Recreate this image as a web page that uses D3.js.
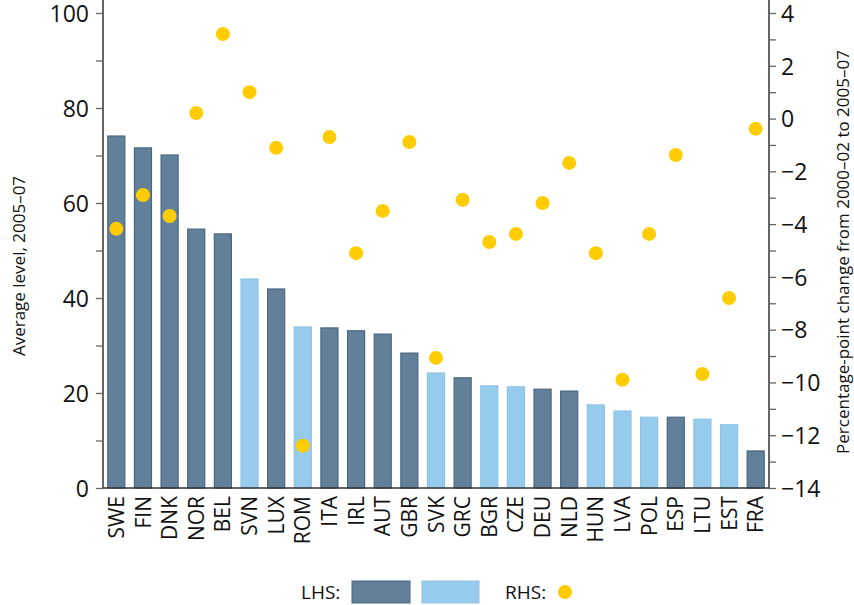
<!DOCTYPE html>
<html><head><meta charset="utf-8">
<script src="https://cdn.jsdelivr.net/npm/d3@7"></script>
<style>body{margin:0;background:#fff}svg{display:block}text{font-family:"Open Sans",sans-serif;fill:#111}</style>
</head><body><svg id="c" width="854" height="605"></svg>
<script>
const categories = ["SWE","FIN","DNK","NOR","BEL","SVN","LUX","ROM","ITA","IRL","AUT","GBR","SVK","GRC","BGR","CZE","DEU","NLD","HUN","LVA","POL","ESP","LTU","EST","FRA"];
const levels = [74.1,71.6,70.1,54.5,53.5,44.0,41.9,33.9,33.7,33.1,32.4,28.4,24.2,23.2,21.5,21.3,20.8,20.4,17.5,16.2,14.9,14.9,14.5,13.3,7.8];
const groups = ["d","d","d","d","d","l","d","l","d","d","d","d","l","d","l","l","d","d","l","l","l","d","l","l","d"];
const changes = [-4.18,-2.9,-3.69,0.21,3.2,1.0,-1.11,-12.4,-0.7,-5.1,-3.5,-0.89,-9.07,-3.08,-4.68,-4.37,-3.2,-1.68,-5.1,-9.9,-4.37,-1.38,-9.68,-6.8,-0.39];
const leftTicks = [0,20,40,60,80,100];
const rightTicks = [4,2,0,-2,-4,-6,-8,-10,-12,-14];

const svg = d3.select("#c");
const L = 103, R = 769, T = 13, B = 488;
const x = d3.scaleBand().domain(categories).range([L, R]).paddingInner(0.36).paddingOuter(0.18);
const yL = d3.scaleLinear().domain([0,100]).range([B,T]);
const yR = d3.scaleLinear().domain([-14,4]).range([B,T]);
const fill = {d:"#62809a", l:"#97cbec"}, stroke = {d:"#4a6782", l:"#8ec3e8"};

svg.append("g").selectAll("rect").data(categories).join("rect")
  .attr("x", d => x(d)).attr("width", x.bandwidth())
  .attr("y", (d,i) => yL(levels[i])).attr("height", (d,i) => B - yL(levels[i]))
  .attr("fill", (d,i) => fill[groups[i]]).attr("stroke", (d,i) => stroke[groups[i]]).attr("stroke-width", 1.2);

svg.append("g").selectAll("circle").data(categories).join("circle")
  .attr("cx", d => x(d) + x.bandwidth()/2).attr("cy", (d,i) => yR(changes[i])).attr("r", 7).attr("fill", "#ffcc00");

const axisCol = "#666";
const gl = svg.append("g").attr("transform", `translate(${L},0)`)
  .call(d3.axisLeft(yL).tickValues(d3.range(0,101,10)).tickSize(7).tickFormat(d => leftTicks.includes(d) ? d : ""));
const gr = svg.append("g").attr("transform", `translate(${R},0)`)
  .call(d3.axisRight(yR).tickValues(d3.range(-14,5,1)).tickSize(7).tickFormat(d => rightTicks.includes(d) ? d3.format("")(d).replace("-","\u2212") : ""));
[gl, gr].forEach(g => {
  g.select(".domain").attr("stroke", axisCol).attr("stroke-width", 2).attr("d", `M0,0V${B}`);
  g.selectAll(".tick line").attr("stroke", axisCol).attr("stroke-width", 1.3);
  g.selectAll(".tick text").style("font-size", "23px").attr("fill", "#111").attr("dy", "0.36em");
});
gl.selectAll(".tick text").attr("x", -14);
gr.selectAll(".tick text").attr("x", 12);

const gb = svg.append("g").attr("transform", `translate(0,${B})`).call(d3.axisBottom(x).tickSize(0));
gb.select(".domain").attr("stroke", "#333").attr("stroke-width", 1.5).attr("d", `M${L},0H${R}`);
gb.selectAll(".tick text").attr("transform", "rotate(-90)").attr("text-anchor", "end")
  .attr("x", -8).attr("y", 0).attr("dy", "0.36em").style("font-size", "21px").attr("fill", "#111");

svg.append("text").attr("transform", `translate(25,266) rotate(-90)`).attr("text-anchor","middle")
  .style("font-size","17px").text("Average level, 2005\u201307");
svg.append("text").attr("transform", `translate(849,252) rotate(-90)`).attr("text-anchor","middle")
  .style("font-size","17px").text("Percentage-point change from 2000\u201302 to 2005\u201307");

const lg = svg.append("g");
lg.append("text").attr("x", 301).attr("y", 599).style("font-size","19px").text("LHS:");
lg.append("rect").attr("x", 352).attr("y", 581).attr("width", 58).attr("height", 22).attr("fill", fill.d).attr("stroke", stroke.d);
lg.append("rect").attr("x", 422).attr("y", 581).attr("width", 57).attr("height", 22).attr("fill", fill.l).attr("stroke", stroke.l);
lg.append("text").attr("x", 505).attr("y", 599).style("font-size","19px").text("RHS:");
lg.append("circle").attr("cx", 565).attr("cy", 592).attr("r", 7).attr("fill", "#ffcc00");
</script></body></html>
